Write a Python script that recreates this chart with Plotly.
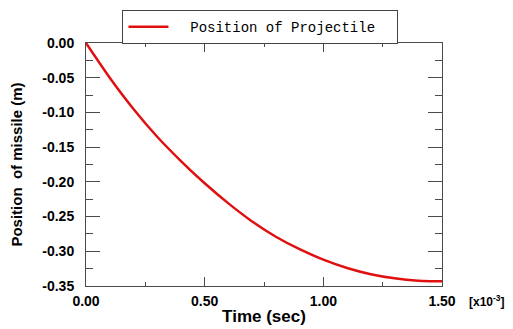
import plotly.graph_objects as go

time_ms = [0, 0.1, 0.2, 0.3, 0.4, 0.5, 0.6, 0.7, 0.8, 0.9, 1.0, 1.1, 1.2, 1.3, 1.4, 1.45, 1.5]
position = [0, -0.050, -0.095, -0.135, -0.170, -0.202, -0.231, -0.257, -0.279, -0.297,
            -0.312, -0.324, -0.333, -0.339, -0.3425, -0.343, -0.343]

x_ticks = [0, 0.5, 1.0, 1.5]
x_tick_text = ["0.00", "0.50", "1.00", "1.50"]
y_ticks = [0, -0.05, -0.10, -0.15, -0.20, -0.25, -0.30, -0.35]
y_tick_text = ["0.00", "-0.05", "-0.10", "-0.15", "-0.20", "-0.25", "-0.30", "-0.35"]

axis_color = "#4a4a4a"
sans = "Liberation Sans, Arial, sans-serif"
font_bold = dict(family=sans, size=14, color="black", weight="bold")

fig = go.Figure()
fig.add_trace(go.Scatter(
    x=time_ms, y=position, mode="lines", name="  Position of Projectile  ",
    line=dict(color="#e01010", width=2.5, shape="spline", smoothing=0.6),
))

# page has an 8px body margin, so figure coords = page coords - 8
fig.update_layout(
    width=513, height=329,
    margin=dict(l=78, r=79, t=35, b=51, autoexpand=False),
    paper_bgcolor="white", plot_bgcolor="white",
    showlegend=True,
    legend=dict(
        x=0.49, y=1.135, xanchor="center", yanchor="top",
        bordercolor="#444444", borderwidth=1, bgcolor="white",
        font=dict(family="Courier New, Liberation Mono, monospace", size=14, color="black"),
        itemwidth=40,
    ),
    xaxis=dict(
        range=[0, 1.5], tickvals=x_ticks, ticktext=x_tick_text,
        ticks="inside", ticklen=9, tickcolor=axis_color, tickwidth=1,
        minor=dict(ticks="inside", ticklen=4, dtick=0.25, tickcolor=axis_color, showgrid=False),
        showline=True, linecolor=axis_color, linewidth=1, mirror="allticks",
        showgrid=False, zeroline=False, tickfont=font_bold, automargin=False,
        ticklabelstandoff=2,
        title=dict(text="Time (sec)", font=dict(family=sans, size=17, color="black", weight="bold"), standoff=2),
    ),
    yaxis=dict(
        range=[-0.35, 0], tickvals=y_ticks, ticktext=y_tick_text,
        ticks="inside", ticklen=14, tickcolor=axis_color, tickwidth=1,
        minor=dict(ticks="inside", ticklen=7, dtick=0.025, tickcolor=axis_color, showgrid=False),
        showline=True, linecolor=axis_color, linewidth=1, mirror="allticks",
        showgrid=False, zeroline=False, tickfont=font_bold, automargin=False,
        ticklabelstandoff=8,
        title=dict(text="Position  of missile (m)", font=dict(family=sans, size=15, color="black", weight="bold"), standoff=16),
    ),
    annotations=[dict(
        text="[x10<sup>-3</sup>]", xref="paper", yref="paper", x=1.07, y=-0.06,
        xanchor="left", yanchor="middle", showarrow=False,
        font=dict(family=sans, size=12, color="black", weight="bold"),
    )],
)

fig.write_html("out.html")
